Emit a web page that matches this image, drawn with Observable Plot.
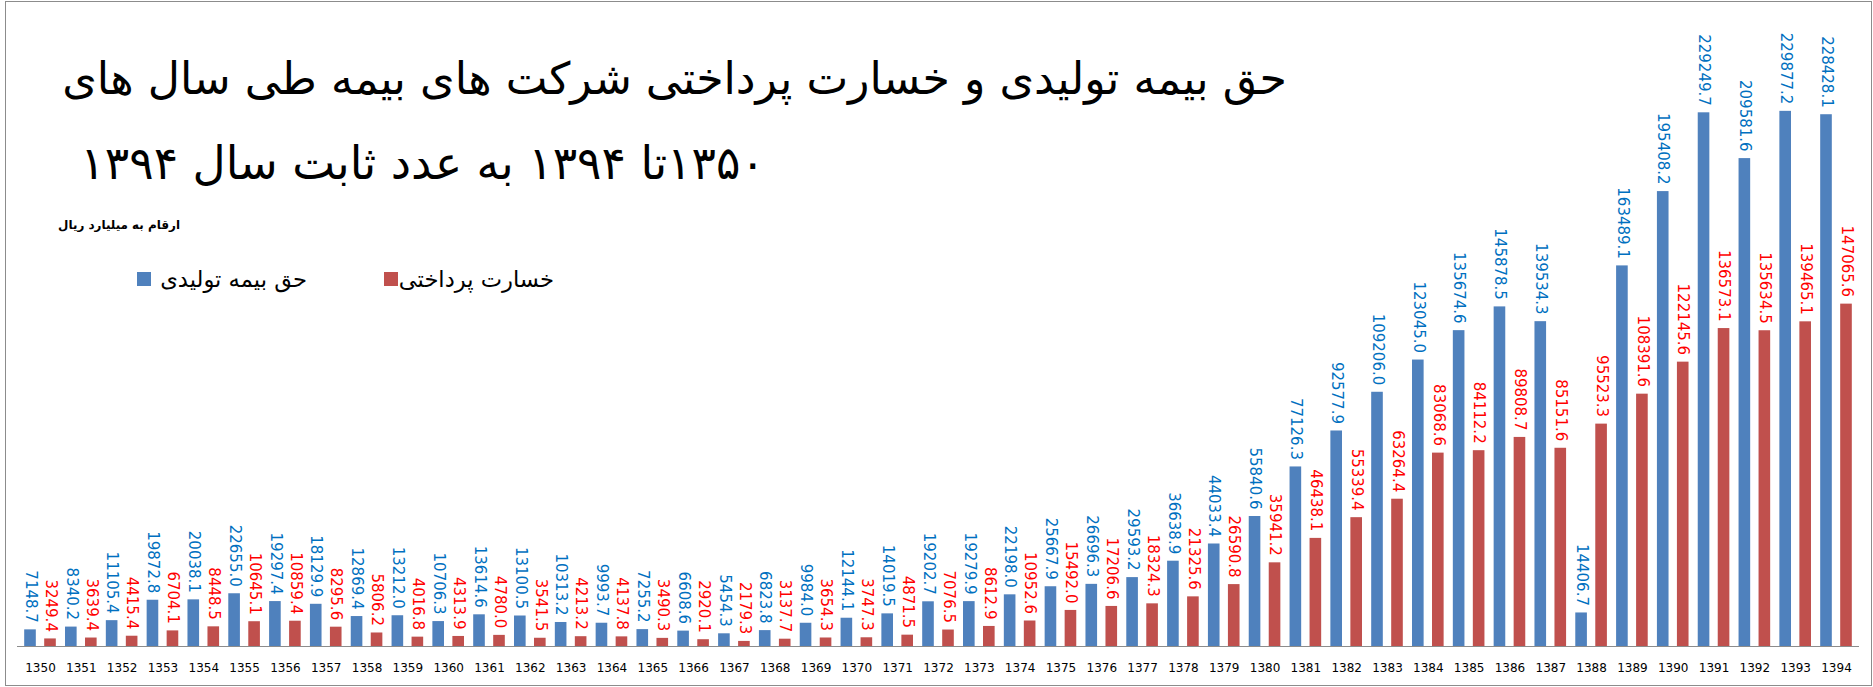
<!DOCTYPE html>
<html>
<head>
<meta charset="utf-8">
<script src="https://cdn.jsdelivr.net/npm/d3@7"></script>
<script src="https://cdn.jsdelivr.net/npm/@observablehq/plot@0.6"></script>
<style>
  html, body { margin: 0; padding: 0; background: #fff; }
  #wrap { position: relative; width: 1873px; height: 687px; overflow: hidden; background: #fff; }
  .txt { position: absolute; white-space: nowrap; direction: rtl; font-family: "DejaVu Sans", sans-serif; line-height: 1; color: #000; }
  .sq { position: absolute; width: 14px; height: 14px; }
  #frame { position: absolute; left: 5px; top: 1px; width: 1867px; height: 685px; border: 1px solid #8c8c8c; box-sizing: border-box; pointer-events: none; }
</style>
</head>
<body>
<div id="wrap">
  <div id="chart"></div>
  <div id="t1" class="txt">حق بیمه تولیدی و خسارت پرداختی شرکت های بیمه طی سال های</div>
  <div id="t2" class="txt">۱۳۵۰تا ۱۳۹۴ به عدد ثابت سال ۱۳۹۴</div>
  <div id="cap" class="txt" style="font-weight:bold">ارقام به میلیارد ریال</div>
  <div id="sq1" class="sq" style="background:#4F81BD"></div>
  <div id="lg1" class="txt">حق بیمه تولیدی</div>
  <div id="sq2" class="sq" style="background:#C0504D"></div>
  <div id="lg2" class="txt">خسارت پرداختی</div>
  <div id="frame"></div>
</div>
<script>
const years = [1350,1351,1352,1353,1354,1355,1356,1357,1358,1359,1360,1361,1362,1363,1364,1365,1366,1367,1368,1369,1370,1371,1372,1373,1374,1375,1376,1377,1378,1379,1380,1381,1382,1383,1384,1385,1386,1387,1388,1389,1390,1391,1392,1393,1394];

const premiums = [7148.7,8340.2,11105.4,19872.8,20038.1,22655.0,19297.4,18129.9,12869.4,13212.0,10706.3,13614.6,13100.5,10313.2,9993.7,7255.2,6608.6,5454.3,6823.8,9984.0,12144.1,14019.5,19202.7,19279.9,22198.0,25667.9,26696.3,29593.2,36638.9,44033.4,55840.6,77126.3,92577.9,109206.0,123045.0,135674.6,145878.5,139534.3,14406.7,163489.1,195408.2,229249.7,209581.6,229877.2,228428.1];

const claims = [3249.4,3639.4,4415.4,6704.1,8448.5,10645.1,10859.4,8295.6,5806.2,4016.8,4313.9,4780.0,3541.5,4213.2,4137.8,3490.3,2920.1,2179.3,3137.7,3654.3,3747.3,4871.5,7076.5,8612.9,10952.6,15492.0,17206.6,18324.3,21325.6,26590.8,35941.2,46438.1,55339.4,63264.4,83068.6,84112.2,89808.7,85151.6,95523.3,108391.6,122145.6,136573.1,135634.5,139465.1,147065.6];

const seriesNames = ["حق بیمه تولیدی", "خسارت پرداختی"];

const premData = years.map((y, i) => ({year: String(y), series: seriesNames[0], value: premiums[i]}));
const claimData = years.map((y, i) => ({year: String(y), series: seriesNames[1], value: claims[i]}));

const inset = 14.6;
const chart = Plot.plot({
  width: 1873,
  height: 687,
  marginTop: 64,
  marginBottom: 41,
  marginLeft: 17,
  marginRight: 14,
  style: {fontFamily: "DejaVu Sans, sans-serif", fontSize: "12px", background: "transparent", color: "#000"},
  x: {type: "band", domain: years.map(String), paddingInner: 0, paddingOuter: 0.0635, label: null, tickSize: 0, tickPadding: 17},
  y: {domain: [0, 250000], axis: null},
  marks: [
    Plot.barY(premData, {x: "year", y: "value", fill: "#4F81BD", dx: -10, insetLeft: inset, insetRight: inset}),
    Plot.barY(claimData, {x: "year", y: "value", fill: "#C0504D", dx: 10, insetLeft: inset, insetRight: inset}),
    Plot.ruleY([0], {stroke: "#8c8c8c", strokeWidth: 1}),
    Plot.text(premData, {x: "year", y: "value", text: d => d.value.toFixed(1), rotate: 90, textAnchor: "end", dx: -10, dy: -7, fill: "#0070C0", fontSize: 15}),
    Plot.text(claimData, {x: "year", y: "value", text: d => d.value.toFixed(1), rotate: 90, textAnchor: "end", dx: 10, dy: -7, fill: "#FF0000", fontSize: 15})
  ]
});
document.getElementById("chart").appendChild(chart);

// place rtl text: fit to target width, right edge and baseline
function place(id, size, right, baseline, width) {
  const el = document.getElementById(id);
  el.style.fontSize = size + "px";
  let f = size;
  if (width) {
    const w0 = el.getBoundingClientRect().width;
    f = size * width / w0;
    el.style.fontSize = f + "px";
  }
  const w = el.getBoundingClientRect().width;
  el.style.left = (right - w) + "px";
  el.style.top = (baseline - 0.846 * f) + "px";
  return f;
}
place("t1", 40, 1287, 94, 1225);
place("t2", 40, 765, 180, 685);
place("cap", 14, 180, 230, 122);
const fl = place("lg1", 20, 307, 287, 147);
place("lg2", fl, 554, 287);
const s1 = document.getElementById("sq1"); s1.style.left = "137px"; s1.style.top = "272px";
const s2 = document.getElementById("sq2"); s2.style.left = "384px"; s2.style.top = "272px";
</script>
</body>
</html>
